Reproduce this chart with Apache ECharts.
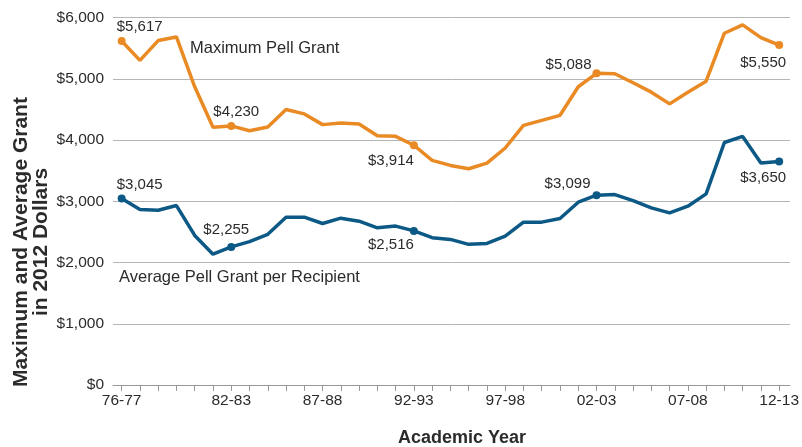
<!DOCTYPE html>
<html>
<head>
<meta charset="utf-8">
<script src="https://cdn.jsdelivr.net/npm/echarts@6/dist/echarts.min.js"></script>
<style>html,body{margin:0;background:#fff}#chart{width:802px;height:447px}</style>
</head>
<body>
<div id="chart"></div>
<script>
const years = ['76-77', '77-78', '78-79', '79-80', '80-81', '81-82', '82-83', '83-84', '84-85', '85-86',
  '86-87', '87-88', '88-89', '89-90', '90-91', '91-92', '92-93', '93-94', '94-95', '95-96',
  '96-97', '97-98', '98-99', '99-00', '00-01', '01-02', '02-03', '03-04', '04-05', '05-06',
  '06-07', '07-08', '08-09', '09-10', '10-11', '11-12', '12-13'];
const maxGrant = [5617, 5300, 5623, 5682, 4869, 4208, 4230, 4152, 4213, 4497, 4426, 4251, 4279, 4262, 4070, 4060, 3914, 3667, 3585,
  3530, 3623, 3869, 4239, 4321, 4403, 4869, 5088, 5082, 4934, 4781, 4590, 4781, 4961, 5743, 5879, 5672, 5550];
const avgGrant = [3045, 2865, 2854, 2930, 2442, 2135, 2255, 2341, 2460, 2740, 2740, 2637, 2724, 2675, 2567, 2594, 2516, 2405, 2377,
  2296, 2312, 2431, 2659, 2659, 2719, 2984, 3099, 3109, 3011, 2892, 2811, 2919, 3120, 3959, 4059, 3625, 3650];
const shownYears = [0, 6, 11, 16, 21, 26, 31, 36];
const markedYears = [0, 6, 16, 26, 36];

const numFont = "'Liberation Sans', Arial, sans-serif";
const wordFont = "'Liberation Sans', Arial, sans-serif";
const textColor = '#2b2b2b';
const orange = '#e98a24';
const blue = '#0d5986';

// label offsets around the marked points
const maxOffsets = [[18, -14], [5, -14], [-23, 16], [-28, -9], [-16, 18]];
const avgOffsets = [[18, -14], [-5, -17], [-23, 14], [-29, -11], [-16, 16]];

function money(v) {
  return '$' + v.toLocaleString('en-US');
}

function buildData(values, offsets, firstBg) {
  return values.map((v, i) => {
    const k = markedYears.indexOf(i);
    if (k < 0) return [i, v];
    return {
      value: [i, v],
      symbol: 'circle',
      symbolSize: 8,
      label: {
        show: true,
        position: 'inside',
        offset: offsets[k],
        formatter: money(v),
        fontFamily: numFont,
        fontSize: 15,
        color: textColor,
        // the first label sits on the top grid line
        backgroundColor: (firstBg && k === 0) ? '#fff' : 'transparent',
        padding: [1, 2]
      }
    };
  });
}

const chart = echarts.init(document.getElementById('chart'));
const option = {
  animation: false,
  grid: { left: 113, right: 8.7, top: 17.5, bottom: 62 },
  xAxis: {
    type: 'value',
    min: -0.474,
    max: 36.59,
    axisLine: { lineStyle: { color: '#999', width: 1 } },
    axisTick: {
      show: true,
      length: 6,
      customValues: years.map((_, i) => i),
      lineStyle: { color: '#999' }
    },
    axisLabel: {
      customValues: shownYears,
      formatter: v => years[v],
      fontFamily: numFont,
      fontSize: 15.5,
      color: textColor,
      margin: 8
    },
    splitLine: { show: false }
  },
  yAxis: {
    type: 'value',
    min: 0,
    max: 6000,
    interval: 1000,
    axisLine: { show: false },
    axisTick: { show: false },
    axisLabel: {
      formatter: v => money(v),
      fontFamily: numFont,
      fontSize: 15.5,
      color: textColor,
      margin: 9
    },
    splitLine: { lineStyle: { color: '#b5b5b5', width: 1 } }
  },
  series: [
    {
      name: 'Maximum Pell Grant',
      type: 'line',
      symbol: 'none',
      lineStyle: { color: orange, width: 3.5 },
      itemStyle: { color: orange },
      data: buildData(maxGrant, maxOffsets, true)
    },
    {
      name: 'Average Pell Grant per Recipient',
      type: 'line',
      symbol: 'none',
      lineStyle: { color: blue, width: 3.5 },
      itemStyle: { color: blue },
      data: buildData(avgGrant, avgOffsets, false)
    }
  ],
  graphic: [
    {
      type: 'text', left: 190, top: 40,
      style: { text: 'Maximum Pell Grant', font: '16.5px ' + wordFont, fill: textColor }
    },
    {
      type: 'text', left: 119, top: 269,
      style: { text: 'Average Pell Grant per Recipient', font: '16.5px ' + wordFont, fill: textColor }
    },
    {
      type: 'text', x: 462, y: 438,
      style: { text: 'Academic Year', font: 'bold 18px ' + wordFont, fill: textColor, align: 'center', verticalAlign: 'middle' }
    },
    {
      type: 'text', x: 31, y: 242, rotation: Math.PI / 2,
      style: {
        text: 'Maximum and Average Grant\nin 2012 Dollars',
        font: 'bold 21px ' + wordFont,
        lineHeight: 20,
        fill: textColor,
        align: 'center',
        verticalAlign: 'middle'
      }
    }
  ]
};
option && chart.setOption(option);
</script>
</body>
</html>
